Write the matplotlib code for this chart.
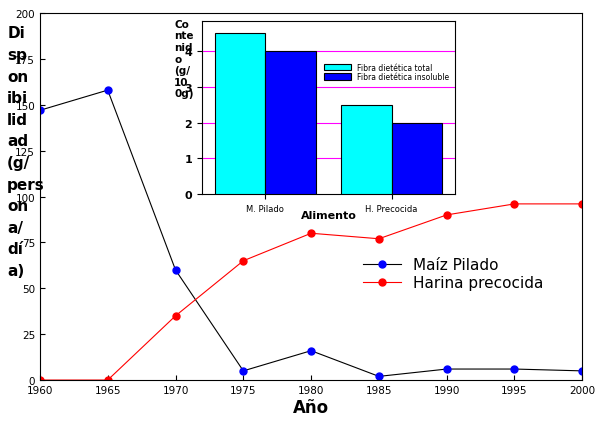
import matplotlib
matplotlib.use("Agg")
import matplotlib.pyplot as plt

years = [1960, 1965, 1970, 1975, 1980, 1985, 1990, 1995, 2000]
maiz = [147, 158, 60, 5, 16, 2, 6, 6, 5]
harina = [0, 0, 35, 65, 80, 77, 90, 96, 96]
foods = ["M. Pilado", "H. Precocida"]
fibra_total = [4.5, 2.5]
fibra_insol = [4.0, 2.0]

fig = plt.figure(figsize=(5.96, 4.39), dpi=100)
ax = fig.add_axes([0.067, 0.132, 0.91, 0.836])
ax.plot(years, maiz, color="black", lw=0.8, marker="o", ms=5, mfc="blue", mec="blue", label="Maíz Pilado")
ax.plot(years, harina, color="red", lw=0.8, marker="o", ms=5, mfc="red", mec="red", label="Harina precocida")
ax.set_xlim(1960, 2000)
ax.set_ylim(0, 200)
ax.set_xticks(years)
ax.set_yticks(range(0, 201, 25))
ax.tick_params(labelsize=7.5, direction="in")
ax.set_xlabel("Año", fontsize=12, fontweight="bold", labelpad=2)
fig.text(0.012, 0.94, "Di\nsp\non\nibi\nlid\nad\n(g/\npers\non\na/\ndí\na)", fontsize=11,
         fontweight="bold", va="top", ha="left", linespacing=1.55)
ax.legend(loc="center left", bbox_to_anchor=(0.57, 0.29), frameon=False, fontsize=11,
          handlelength=2.5, labelspacing=0.2)

ins = fig.add_axes([0.339, 0.556, 0.424, 0.394])
x = [0, 1]
w = 0.4
ins.bar([i - w / 2 for i in x], fibra_total, w, color="cyan", edgecolor="black", lw=0.8, label="Fibra dietética total", zorder=3)
ins.bar([i + w / 2 for i in x], fibra_insol, w, color="blue", edgecolor="black", lw=0.8, label="Fibra dietética insoluble", zorder=3)
ins.set_ylim(0, 4.85)
ins.set_xlim(-0.5, 1.5)
ins.set_yticks([0, 1, 2, 3, 4])
for yv in [1, 2, 3, 4]:
    ins.axhline(yv, color="magenta", lw=0.8, zorder=1)
ins.set_xticks(x)
ins.set_xticklabels(foods, fontsize=6)
ins.tick_params(axis="y", labelsize=8)
for t in ins.get_yticklabels():
    t.set_fontweight("bold")
ins.set_xlabel("Alimento", fontsize=8, fontweight="bold", labelpad=-2)
fig.text(0.292, 0.955, "Co\nnte\nnid\no\n(g/\n10\n0g)", fontsize=7.5, fontweight="bold",
         va="top", ha="left", linespacing=1.2)
ins.legend(loc="upper right", bbox_to_anchor=(1.0, 0.79), fontsize=5.5, frameon=False,
           handlelength=3.5, handleheight=1.0, labelspacing=0.1, borderpad=0.2)

fig.savefig("out.png", dpi=100)
